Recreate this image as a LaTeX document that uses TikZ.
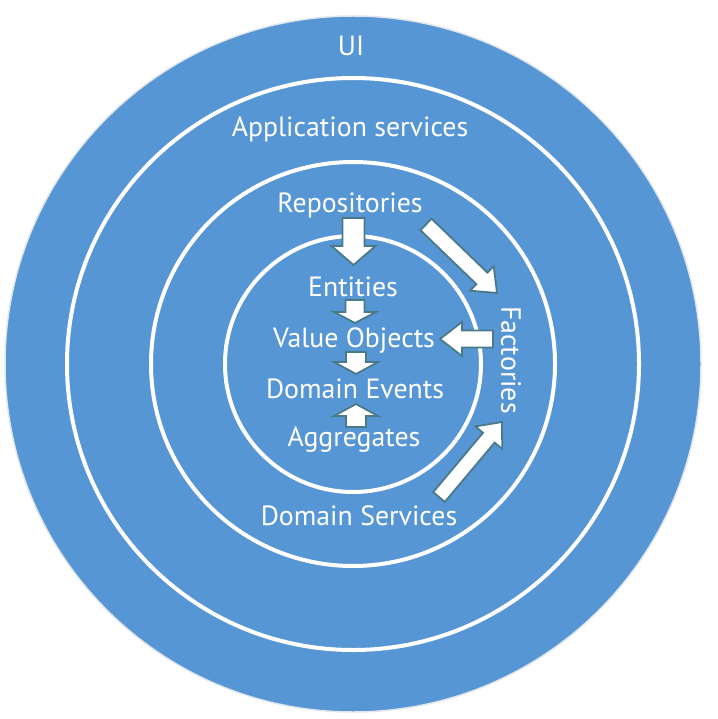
\documentclass[tikz,border=0pt]{standalone}
\usepackage{fontspec}
\setmainfont{PT Sans}
\usetikzlibrary{calc}
\definecolor{ringblue}{RGB}{87,150,213}
\definecolor{arrowedge}{RGB}{74,122,136}
\definecolor{rimgrey}{RGB}{225,230,236}
\tikzset{
  layer/.style={font=\fontsize{27.8}{32}\selectfont, text=white, inner sep=0pt, anchor=base},
  ring/.style={draw=white, line width=4pt},
  blockarrow/.style={draw=arrowedge, fill=white, line width=1.8pt, line join=miter},
}
% block arrow from #1 (tail) to #2 (tip);
% #3 shaft half-width, #4 head half-width, #5 head length
\newcommand\blockarrow[5]{%
  \coordinate (ba-h) at ($(#2)!#5!(#1)$);
  \draw[blockarrow]
    ($(#1)!#3!90:(#2)$) -- ($(ba-h)!#3!90:(#2)$) -- ($(ba-h)!#4!90:(#2)$)
    -- (#2)
    -- ($(ba-h)!#4!-90:(#2)$) -- ($(ba-h)!#3!-90:(#2)$) -- ($(#1)!#3!-90:(#2)$)
    -- cycle;
}
\begin{document}
\begin{tikzpicture}[x=1pt, y=-1pt]
  \useasboundingbox (0,0) rectangle (717,719);

  % concentric layers
  \coordinate (c) at (353,364);
  \fill[ringblue, draw=rimgrey, line width=1.5pt] (c) circle (348pt);
  \draw[ring] (c) circle (286pt);
  \draw[ring] (c) circle (202pt);
  \draw[ring] (c) circle (128pt);

  % layer labels
  \node[layer] (ui)   at (351,56)  {UI};
  \node[layer] (app)  at (350,137) {Application services};
  \node[layer] (repo) at (350,213) {Repositories};
  \node[layer] (ent)  at (353,296) {Entities};
  \node[layer] (vo)   at (354,347) {Value Objects};
  \node[layer] (ev)   at (355,398) {Domain Events};
  \node[layer] (agg)  at (354,446) {Aggregates};
  \node[layer] (ds)   at (359,525) {Domain Services};
  \node[layer, anchor=center, rotate=-90] (fac) at (511,360) {Factories};

  % arrow end points
  \coordinate (repo-out)  at (353.5,218);
  \coordinate (ent-in)    at (353.5,265);
  \coordinate (ent-out)   at (355,300);
  \coordinate (vo-in)     at (355,323);
  \coordinate (vo-out)    at (356,352);
  \coordinate (ev-in)     at (356,374);
  \coordinate (agg-out)   at (356,427);
  \coordinate (ev-in2)    at (356,404);
  \coordinate (fac-out)   at (493,339);
  \coordinate (vo-in2)    at (440,339);
  \coordinate (repo-out2) at (426,224.5);
  \coordinate (fac-in)    at (497,293);
  \coordinate (ds-out)    at (439,497);
  \coordinate (fac-in2)   at (502,422);

  % dependencies between the building blocks
  \blockarrow{repo-out}{ent-in}{11pt}{22pt}{19pt}
  \blockarrow{ent-out}{vo-in}{9.5pt}{21pt}{11pt}
  \blockarrow{vo-out}{ev-in}{10pt}{22pt}{12pt}
  \blockarrow{agg-out}{ev-in2}{10pt}{22pt}{12pt}
  \blockarrow{fac-out}{vo-in2}{8.5pt}{17pt}{22pt}
  \blockarrow{repo-out2}{fac-in}{8pt}{17pt}{21pt}
  \blockarrow{ds-out}{fac-in2}{7.6pt}{17.5pt}{20.5pt}
\end{tikzpicture}
\end{document}
